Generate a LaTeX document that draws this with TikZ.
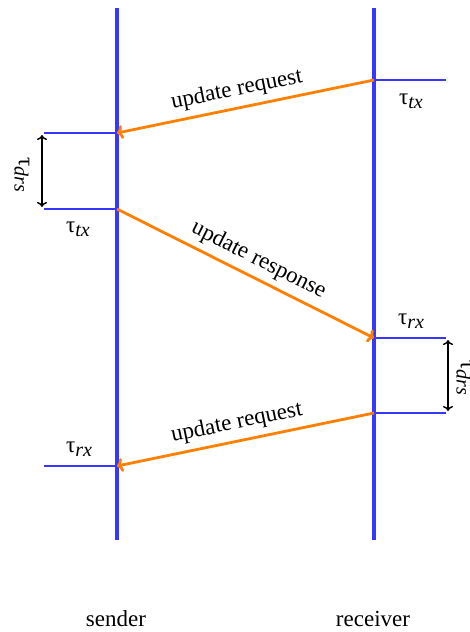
\documentclass[tikz,border=0pt]{standalone}
\usepackage{fontspec}
\setmainfont{Liberation Serif}
\usetikzlibrary{arrows.meta}
\definecolor{lifeblue}{RGB}{55,55,255}
\definecolor{msgorange}{RGB}{255,128,0}
\newcommand\tausub[1]{τ\raisebox{-0.4ex}{\fontsize{20}{22}\selectfont\itshape #1}}
\begin{document}
\begin{tikzpicture}[x=1pt,y=-1pt,
  font=\rmfamily\fontsize{23}{27}\selectfont,
  life/.style={draw=lifeblue, line width=3.2pt},
  tickline/.style={draw=lifeblue, line width=2.2pt},
  msg/.style={draw=msgorange, line width=2.8pt, -{To[length=6pt,width=14pt]}},
  spanarrow/.style={draw=black, line width=1.4pt, {To[length=5pt,width=10pt]}-{To[length=5pt,width=10pt]}},
  lab/.style={inner sep=0pt}]
\useasboundingbox (0,0) rectangle (470,632);
% lifelines
\coordinate (sTop) at (117,8);  \coordinate (sBot) at (117,540);
\coordinate (rTop) at (374,8);  \coordinate (rBot) at (374,540);
\draw[life] (sTop) -- (sBot);
\draw[life] (rTop) -- (rBot);
% event points
\coordinate (r1) at (374,80);   \coordinate (r1e) at (446,80);
\coordinate (s1) at (117,133);  \coordinate (s1e) at (44,133);
\coordinate (s2) at (117,209);  \coordinate (s2e) at (44,209);
\coordinate (r2) at (374,338);  \coordinate (r2e) at (446,338);
\coordinate (r3) at (374,413);  \coordinate (r3e) at (446,413);
\coordinate (s3) at (117,466);  \coordinate (s3e) at (44,466);
% ticks
\draw[tickline] (r1) -- (r1e);
\draw[tickline] (s1) -- (s1e);
\draw[tickline] (s2) -- (s2e);
\draw[tickline] (r2) -- (r2e);
\draw[tickline] (r3) -- (r3e);
\draw[tickline] (s3) -- (s3e);
% messages
\draw[msg] (r1) -- node[pos=0.52, rotate=11.4, above=6pt, lab] {update request} (s1);
\draw[msg] (s2) -- node[pos=0.52, rotate=-26.7, above=6pt, lab] {update response} (r2);
\draw[msg] (r3) -- node[pos=0.52, rotate=11.6, above=6pt, lab] {update request} (s3);
% span arrows
\coordinate (d1a) at (42,135); \coordinate (d1b) at (42,207);
\coordinate (d2a) at (448,340); \coordinate (d2b) at (448,411);
\draw[spanarrow] (d1a) -- (d1b);
\draw[spanarrow] (d2a) -- (d2b);
% labels
\node[lab] (ltx1) at (411,101) {\tausub{tx}};
\node[lab] (ltx2) at (78,229) {\tausub{tx}};
\node[lab] (lrx1) at (411,321) {\tausub{rx}};
\node[lab] (lrx2) at (79,449) {\tausub{rx}};
\node[lab, rotate=-90] (ldrs1) at (22,175) {\tausub{drs}};
\node[lab, rotate=-90] (ldrs2) at (464,378) {\tausub{drs}};
\node[lab] (snd) at (116,619) {sender};
\node[lab] (rcv) at (373,619) {receiver};
\end{tikzpicture}
\end{document}
